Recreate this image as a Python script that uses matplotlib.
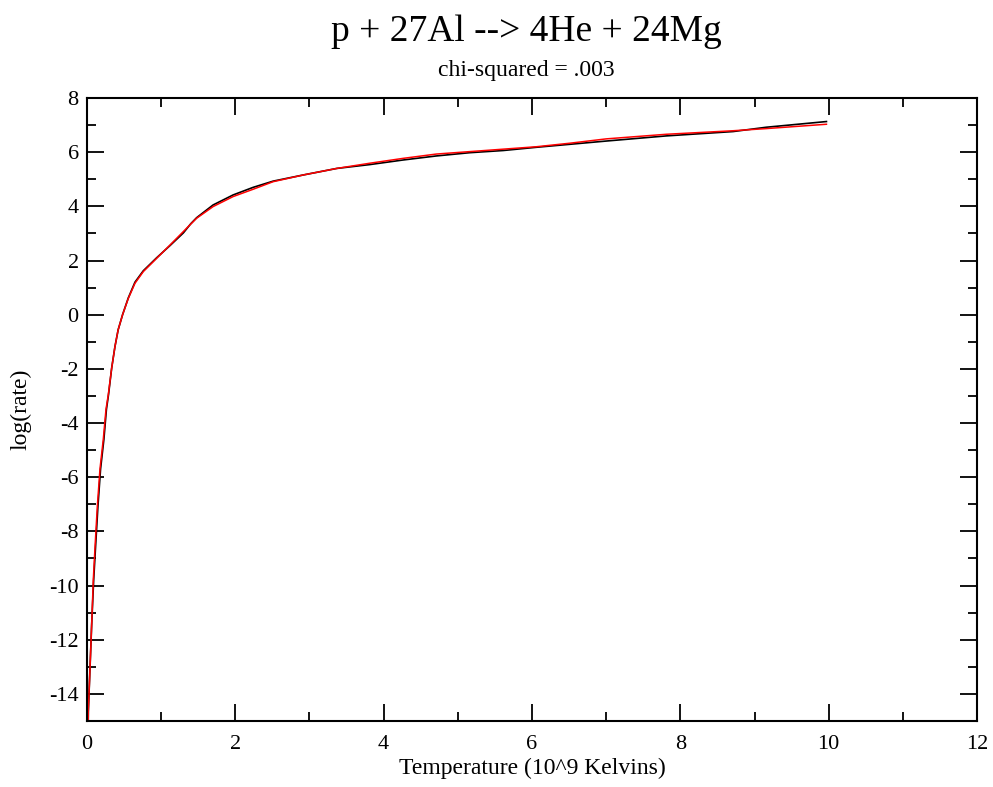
import matplotlib
matplotlib.use("Agg")
import matplotlib.pyplot as plt
from matplotlib.ticker import MultipleLocator

# fitted rate (red) and tabulated rate (black), T9 vs log(rate)
fit_t9 = [0.015, 0.018, 0.04, 0.063, 0.085, 0.108, 0.139, 0.175, 0.22, 0.256, 0.287,
          0.333, 0.377, 0.42, 0.48, 0.557, 0.647, 0.759, 0.939, 1.119, 1.343, 1.478,
          1.70, 1.97, 2.24, 2.51, 2.92, 3.37, 3.81, 4.26, 4.71, 5.16, 5.61, 6.06, 6.51,
          7.0, 7.81, 8.71, 9.16, 9.97]
fit_log = [-15.5, -14.65, -13.1, -11.45, -9.8, -8.6, -7.1, -5.7, -4.6, -3.5, -2.96,
           -1.97, -1.18, -0.56, 0.0, 0.6, 1.16, 1.59, 2.08, 2.57, 3.19, 3.56,
           3.99, 4.36, 4.63, 4.91, 5.16, 5.40, 5.59, 5.77, 5.93, 6.02, 6.11, 6.20, 6.33,
           6.49, 6.66, 6.79, 6.87, 7.03]

data_t9 = [0.015, 0.018, 0.04, 0.063, 0.09, 0.115, 0.147, 0.183, 0.228, 0.262, 0.29,
           0.333, 0.377, 0.42, 0.48, 0.557, 0.647, 0.759, 0.939, 1.119, 1.30, 1.40, 1.478,
           1.70, 1.97, 2.24, 2.51, 2.92, 3.37, 3.81, 4.26, 4.71, 5.16, 5.61, 6.06, 6.51,
           7.0, 7.81, 8.71, 9.16, 9.97]
data_log = [-15.5, -14.65, -13.1, -11.45, -9.8, -8.6, -7.1, -5.7, -4.6, -3.5, -2.96,
            -1.97, -1.18, -0.56, 0.0, 0.62, 1.2, 1.62, 2.1, 2.55, 3.02, 3.36, 3.58,
            4.05, 4.42, 4.70, 4.93, 5.16, 5.40, 5.54, 5.71, 5.86, 5.98, 6.06, 6.18, 6.29,
            6.41, 6.60, 6.76, 6.92, 7.13]

plt.rcParams['font.family'] = 'Liberation Serif'
plt.rcParams['axes.unicode_minus'] = False

fig = plt.figure(figsize=(9.93, 7.87), dpi=100)
ax = fig.add_axes([0.0876, 0.0839, 0.8963, 0.7916])

ax.plot(data_t9, data_log, color='black', linewidth=1.2)
ax.plot(fit_t9, fit_log, color='red', linewidth=1.1)

ax.set_xlim(0, 12)
ax.set_ylim(-15, 8)
ax.xaxis.set_major_locator(MultipleLocator(2))
ax.xaxis.set_minor_locator(MultipleLocator(1))
ax.yaxis.set_major_locator(MultipleLocator(2))
ax.yaxis.set_minor_locator(MultipleLocator(1))
ax.tick_params(which='both', direction='in', top=True, right=True, width=1.3, labelsize=16)
ax.tick_params(which='major', length=12.5, pad=6)
ax.tick_params(which='minor', length=6.5)
ax.tick_params(axis='x', which='major', pad=10)
for s in ax.spines.values():
    s.set_linewidth(1.5)

ax.set_xlabel('Temperature (10^9 Kelvins)', fontsize=17, labelpad=3)
ax.set_ylabel('log(rate)', fontsize=17, labelpad=13)

fig.text(0.5304, 0.960, 'p + 27Al --> 4He + 24Mg', fontsize=27, ha='center', va='center')
fig.text(0.5304, 0.910, 'chi-squared = .003', fontsize=17, ha='center', va='center')

plt.savefig('out.png', dpi=100)
